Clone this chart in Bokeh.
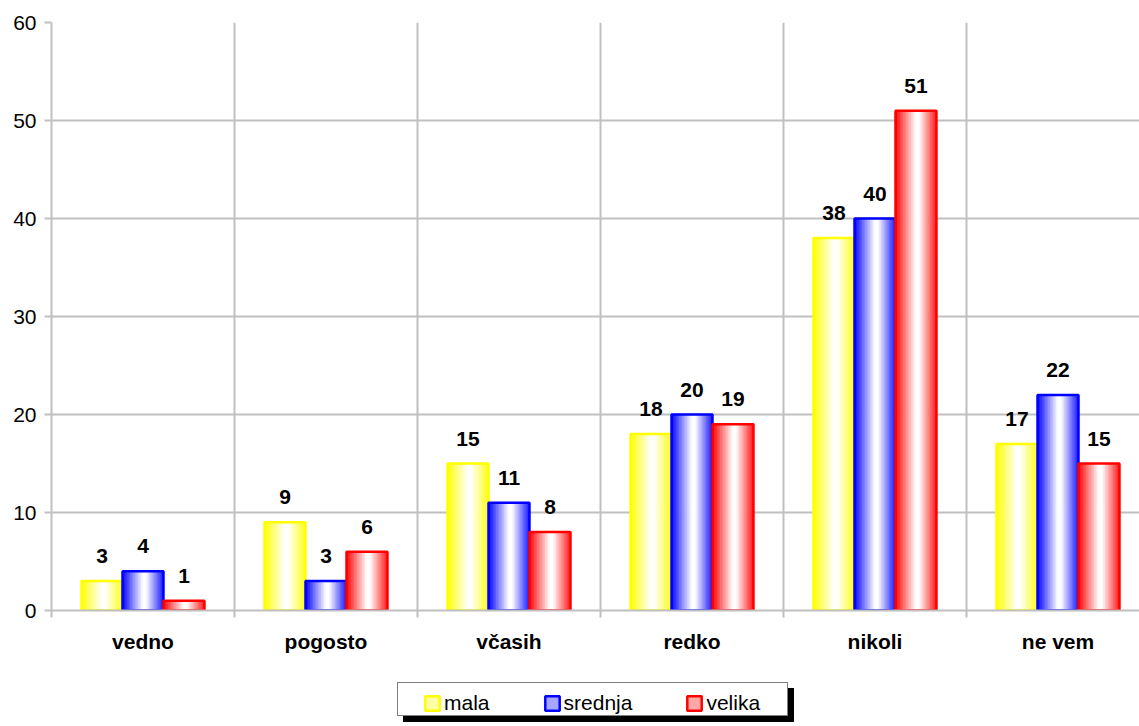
import numpy as np
from bokeh.plotting import figure
from bokeh.layouts import column
from bokeh.models import Range1d, FixedTicker, Legend, LegendItem
from bokeh.core.properties import value
from bokeh.embed import file_html
from bokeh.resources import INLINE

# ---------------- data ----------------
categories = ["vedno", "pogosto", "včasih", "redko", "nikoli", "ne vem"]
series_names = ["mala", "srednja", "velika"]
mala = [3, 9, 15, 18, 38, 17]
srednja = [4, 3, 11, 20, 40, 22]
velika = [1, 6, 8, 19, 51, 15]
y_ticks = [0, 10, 20, 30, 40, 50, 60]

series_values = [mala, srednja, velika]
series_rgb = [(255, 255, 0), (0, 0, 255), (255, 0, 0)]

FONT = "Liberation Sans"
GRID = "#C0C0C0"

W, H = 1139, 670
LEFT, TOP, BOTTOM = 51, 22, 60
frame_w = W - LEFT
cat_px = 183.0

p = figure(width=W, height=H, output_backend="svg", toolbar_location=None,
           x_range=Range1d(-0.5, -0.5 + frame_w / cat_px), y_range=Range1d(0, 60),
           min_border_left=LEFT, min_border_right=0, min_border_top=TOP,
           min_border_bottom=BOTTOM)
p.outline_line_color = None
p.background_fill_color = "white"
p.border_fill_color = "white"

idx = np.arange(len(categories))
bw = 0.224
N = 26


def hexcol(rgb, i):
    r, g, b = [int(round(255 * (1 - i) + c * i)) for c in rgb]
    return "#%02x%02x%02x" % (r, g, b)


def intensity(t):
    if t < 0.5:
        return (0.5 - t) / 0.5
    if t < 0.58:
        return 0.0
    return 0.9 * (t - 0.58) / 0.42


for j, (vals, rgb) in enumerate(zip(series_values, series_rgb)):
    center = idx + (j - 1) * bw
    for k in range(N):
        t = (k + 0.5) / N
        xs = center - bw / 2 + t * bw
        p.vbar(x=xs, top=vals, bottom=0, width=bw / N * 1.35,
               fill_color=hexcol(rgb, intensity(t)), line_color=None)
    p.vbar(x=center, top=vals, bottom=0, width=bw, fill_color=None,
           line_color=hexcol(rgb, 1.0), line_width=2.5)
    p.text(x=center, y=vals, text=[str(v) for v in vals], text_align="center",
           text_baseline="alphabetic", y_offset=-25, text_font=value(FONT),
           text_font_style="bold", text_font_size="21px", text_color="black")

# axes
p.yaxis.ticker = FixedTicker(ticks=y_ticks)
p.yaxis.axis_line_color = GRID
p.yaxis.axis_line_width = 2
p.yaxis.major_tick_line_color = GRID
p.yaxis.major_tick_line_width = 2
p.yaxis.major_tick_out = 7
p.yaxis.major_tick_in = 0
p.yaxis.minor_tick_line_color = None
p.yaxis.major_label_standoff = 8
p.yaxis.major_label_text_font = FONT
p.yaxis.major_label_text_font_size = "21px"
p.yaxis.major_label_text_color = "black"

p.xaxis.ticker = FixedTicker(ticks=list(idx), minor_ticks=[i - 0.5 for i in range(len(categories) + 1)])
p.xaxis.major_label_overrides = {int(i): c for i, c in zip(idx, categories)}
p.xaxis.axis_line_color = GRID
p.xaxis.axis_line_width = 2
p.xaxis.major_tick_line_color = None
p.xaxis.major_tick_out = 0
p.xaxis.major_tick_in = 0
p.xaxis.minor_tick_line_color = GRID
p.xaxis.minor_tick_line_width = 2
p.xaxis.minor_tick_out = 7
p.xaxis.minor_tick_in = 0
p.xaxis.major_label_standoff = 12
p.xaxis.major_label_text_font = FONT
p.xaxis.major_label_text_font_style = "bold"
p.xaxis.major_label_text_font_size = "21px"
p.xaxis.major_label_text_color = "black"

p.xgrid.grid_line_color = None
p.xgrid.minor_grid_line_color = GRID
p.xgrid.minor_grid_line_width = 2
p.ygrid.grid_line_color = GRID
p.ygrid.grid_line_width = 2

# ---------------- legend strip below (shadow + box + content) ----------------
LH = 726 - H
p2 = figure(width=W, height=LH, output_backend="svg", toolbar_location=None,
            x_range=Range1d(0, W), y_range=Range1d(0, LH),
            x_axis_location=None, y_axis_location=None,
            min_border_left=0, min_border_right=0, min_border_top=0, min_border_bottom=0)
p2.outline_line_color = None
p2.grid.visible = False
p2.background_fill_color = "white"
p2.border_fill_color = "white"

# zero-size proxies hidden under the legend box; they only provide the swatches
px, py = W / 2, LH / 2
blank = p2.vbar(x=[px], top=[py], bottom=py, width=0, fill_alpha=0, line_alpha=0)
leg_renderers = []
for rgb in series_rgb:
    leg_renderers.append(p2.vbar(x=[px], top=[py], bottom=py, width=0,
                                 fill_color=hexcol(rgb, 0.35),
                                 line_color=hexcol(rgb, 1.0), line_width=2.5))


def box_legend(loc, fill):
    return Legend(items=[LegendItem(label=value(""), renderers=[blank])], location=loc,
                  orientation="horizontal", padding=0, margin=0, spacing=0,
                  glyph_width=1, glyph_height=32, label_width=388, label_height=32,
                  label_standoff=0, background_fill_color=fill, background_fill_alpha=1,
                  border_line_color="black", border_line_width=1)


# locations are relative to the (frame-aligned) legend strip
shadow = box_legend((352, 4), "black")
box = box_legend((346, 10), "white")
content = Legend(items=[LegendItem(label=value(n), renderers=[r]) for n, r in zip(series_names, leg_renderers)],
                 location=(372, 11), orientation="horizontal", padding=0, margin=0,
                 spacing=53, glyph_width=18, glyph_height=18, label_height=18,
                 label_standoff=3, background_fill_alpha=0, border_line_color=None,
                 label_text_font=FONT, label_text_font_size="21px", label_text_color="black")
p2.add_layout(shadow, "center")
p2.add_layout(box, "center")
p2.add_layout(content, "center")

layout = column(p, p2, spacing=0)
open("out.html", "w").write(file_html(layout, INLINE))
